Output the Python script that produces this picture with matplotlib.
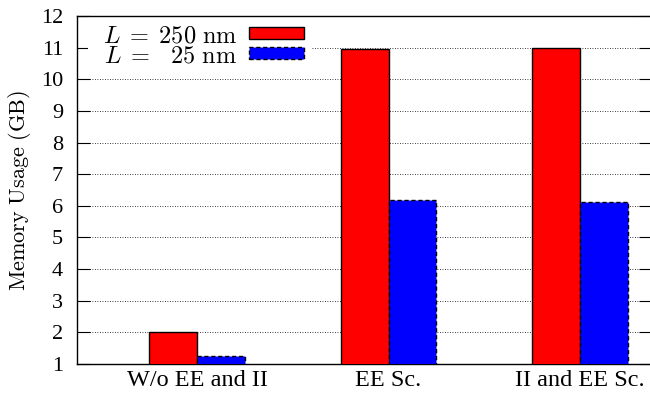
import matplotlib
matplotlib.use("Agg")
import matplotlib.pyplot as plt
from matplotlib.patches import Rectangle
import numpy as np

# memory usage per setup
groups = ["W/o EE and II", "EE Sc.", "II and EE Sc."]
mem_250 = [2.0, 10.95, 11.0]
mem_25 = [1.24, 6.17, 6.12]
labels = [r"$L\;=\;250\ \mathrm{nm}$", r"$L\;=\;\enspace25\ \mathrm{nm}$"]
yticks = list(range(1, 13))

plt.rcParams['font.family'] = ['Liberation Serif', 'DejaVu Serif']
plt.rcParams['mathtext.fontset'] = 'cm'

fig = plt.figure(figsize=(6.5, 4), dpi=100)
ax = fig.add_axes([77/650, 1-364/400, 574/650, 348/400])

x = np.arange(len(groups))
w = 0.25
ax.bar(x - w/2, mem_250, w, color='#ff0000', edgecolor='black',
       linewidth=1.0, label=labels[0], zorder=3)
ax.bar(x + w/2, mem_25, w, color='#0000ff', edgecolor='black',
       linewidth=1.0, linestyle=(0, (3, 2)), label=labels[1], zorder=3)

ax.set_xlim(-0.627, 2.37)
ax.set_ylim(1, 12)
ax.set_yticks(yticks)
ax.set_xticks(x)
ax.set_xticklabels(groups, fontsize=17.5)
ax.tick_params(axis='x', length=0, pad=4)
ax.tick_params(axis='y', direction='in', length=9, width=0.8, right=True,
               labelsize=16, pad=10)
ax.grid(axis='y', linestyle=(0, (1, 2)), color='black', linewidth=0.6)
for s in ax.spines.values():
    s.set_linewidth(1.0)

ax.set_ylabel(r"$\mathrm{Memory\ Usage\ (GB)}$", fontsize=16)
ax.yaxis.set_label_coords(-0.077, 0.5)

# gnuplot key box is opaque, hides the grid behind it
ax.add_patch(Rectangle((11/574, 1 - 52/348), 224/574, 52/348,
                       transform=ax.transAxes, facecolor='white',
                       edgecolor='none', zorder=1.6))

leg = ax.legend(loc='upper right', bbox_to_anchor=((304-77)/574, 0.971),
                markerfirst=False, fontsize=17.5, frameon=False,
                handlelength=2.25, handleheight=0.38, handletextpad=0.5,
                labelspacing=-0.04, borderaxespad=0.0, borderpad=0.0)

fig.savefig("out.png", dpi=100)
